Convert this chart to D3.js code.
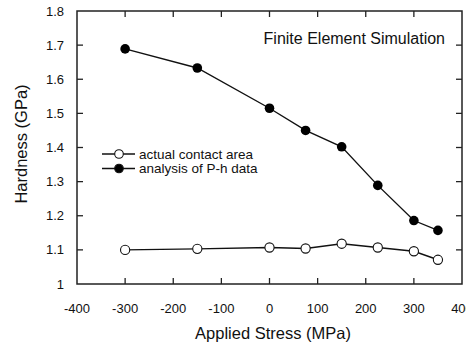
<!DOCTYPE html>
<html><head><meta charset="utf-8">
<script src="https://cdn.jsdelivr.net/npm/d3@7"></script>
<style>body{margin:0;background:#fff}svg{display:block}text{font-family:"Liberation Sans",Arial,sans-serif;fill:#111}</style>
</head><body>
<svg id="c" width="466" height="344"></svg>
<script>
const stress = [-300, -150, 0, 75, 150, 225, 300, 350];
const contactArea = [1.100, 1.103, 1.107, 1.104, 1.118, 1.107, 1.096, 1.071];
const phAnalysis = [1.689, 1.633, 1.515, 1.450, 1.402, 1.289, 1.186, 1.157];
const xTicks = [-400, -300, -200, -100, 0, 100, 200, 300, 400];
const yTicks = [1, 1.1, 1.2, 1.3, 1.4, 1.5, 1.6, 1.7, 1.8];
const seriesNames = ["actual contact area", "analysis of P-h data"];

const svg = d3.select("#c");
const L = 77, R = 462, T = 11, B = 284;
const x = d3.scaleLinear().domain([-400, 400]).range([L, R]);
const y = d3.scaleLinear().domain([1, 1.8]).range([B, T]);
const tl = 6;

const inner = xTicks.slice(1, -1);
const innerY = yTicks.slice(1, -1);
const g = svg.append("g").attr("stroke", "#222").attr("stroke-width", 1.3);
g.selectAll(".tb").data(inner).join("line").attr("x1", d => x(d)).attr("x2", d => x(d)).attr("y1", B).attr("y2", B - tl);
g.selectAll(".tt").data(inner).join("line").attr("x1", d => x(d)).attr("x2", d => x(d)).attr("y1", T).attr("y2", T + tl);
g.selectAll(".tl").data(innerY).join("line").attr("y1", d => y(d)).attr("y2", d => y(d)).attr("x1", L).attr("x2", L + tl);
g.selectAll(".tr").data(innerY).join("line").attr("y1", d => y(d)).attr("y2", d => y(d)).attr("x1", R).attr("x2", R - tl);
svg.append("rect").attr("x", L).attr("y", T).attr("width", R - L).attr("height", B - T)
  .attr("fill", "none").attr("stroke", "#222").attr("stroke-width", 1.5);

svg.selectAll(".xl").data(xTicks).join("text").attr("x", d => x(d)).attr("y", B + 29)
  .attr("text-anchor", "middle").attr("font-size", 13).text(d => d);
svg.selectAll(".yl").data(yTicks).join("text").attr("x", 64).attr("y", d => y(d) + 4.5)
  .attr("text-anchor", "end").attr("font-size", 13).text(d => d3.format("")(d));

svg.append("text").attr("x", 273).attr("y", 339).attr("text-anchor", "middle").attr("font-size", 16.5).text("Applied Stress (MPa)");
svg.append("text").attr("transform", "translate(27,144) rotate(-90)").attr("text-anchor", "middle").attr("font-size", 16.5).text("Hardness (GPa)");
svg.append("text").attr("x", 445).attr("y", 43.5).attr("text-anchor", "end").attr("font-size", 16).text("Finite Element Simulation");

const line = d3.line().x(d => x(d[0])).y(d => y(d[1]));
const s1 = stress.map((s, i) => [s, contactArea[i]]);
const s2 = stress.map((s, i) => [s, phAnalysis[i]]);
svg.append("path").datum(s1).attr("d", line).attr("fill", "none").attr("stroke", "#111").attr("stroke-width", 1.4);
svg.append("path").datum(s2).attr("d", line).attr("fill", "none").attr("stroke", "#111").attr("stroke-width", 1.4);
svg.selectAll(".p1").data(s1).join("circle").attr("cx", d => x(d[0])).attr("cy", d => y(d[1])).attr("r", 4.6)
  .attr("fill", "#fff").attr("stroke", "#111").attr("stroke-width", 1.1);
svg.selectAll(".p2").data(s2).join("circle").attr("cx", d => x(d[0])).attr("cy", d => y(d[1])).attr("r", 4.8)
  .attr("fill", "#000");

const lg = svg.append("g");
seriesNames.forEach((n, i) => {
  const yy = 154 + i * 14.5;
  lg.append("line").attr("x1", 102).attr("x2", 135).attr("y1", yy).attr("y2", yy).attr("stroke", "#111").attr("stroke-width", 1.4);
  lg.append("circle").attr("cx", 119).attr("cy", yy).attr("r", 4.3)
    .attr("fill", i ? "#000" : "#fff").attr("stroke", "#111").attr("stroke-width", 1.1);
  lg.append("text").attr("x", 139).attr("y", yy + 4.5).attr("font-size", 13.5).text(n);
});
</script>
</body></html>
